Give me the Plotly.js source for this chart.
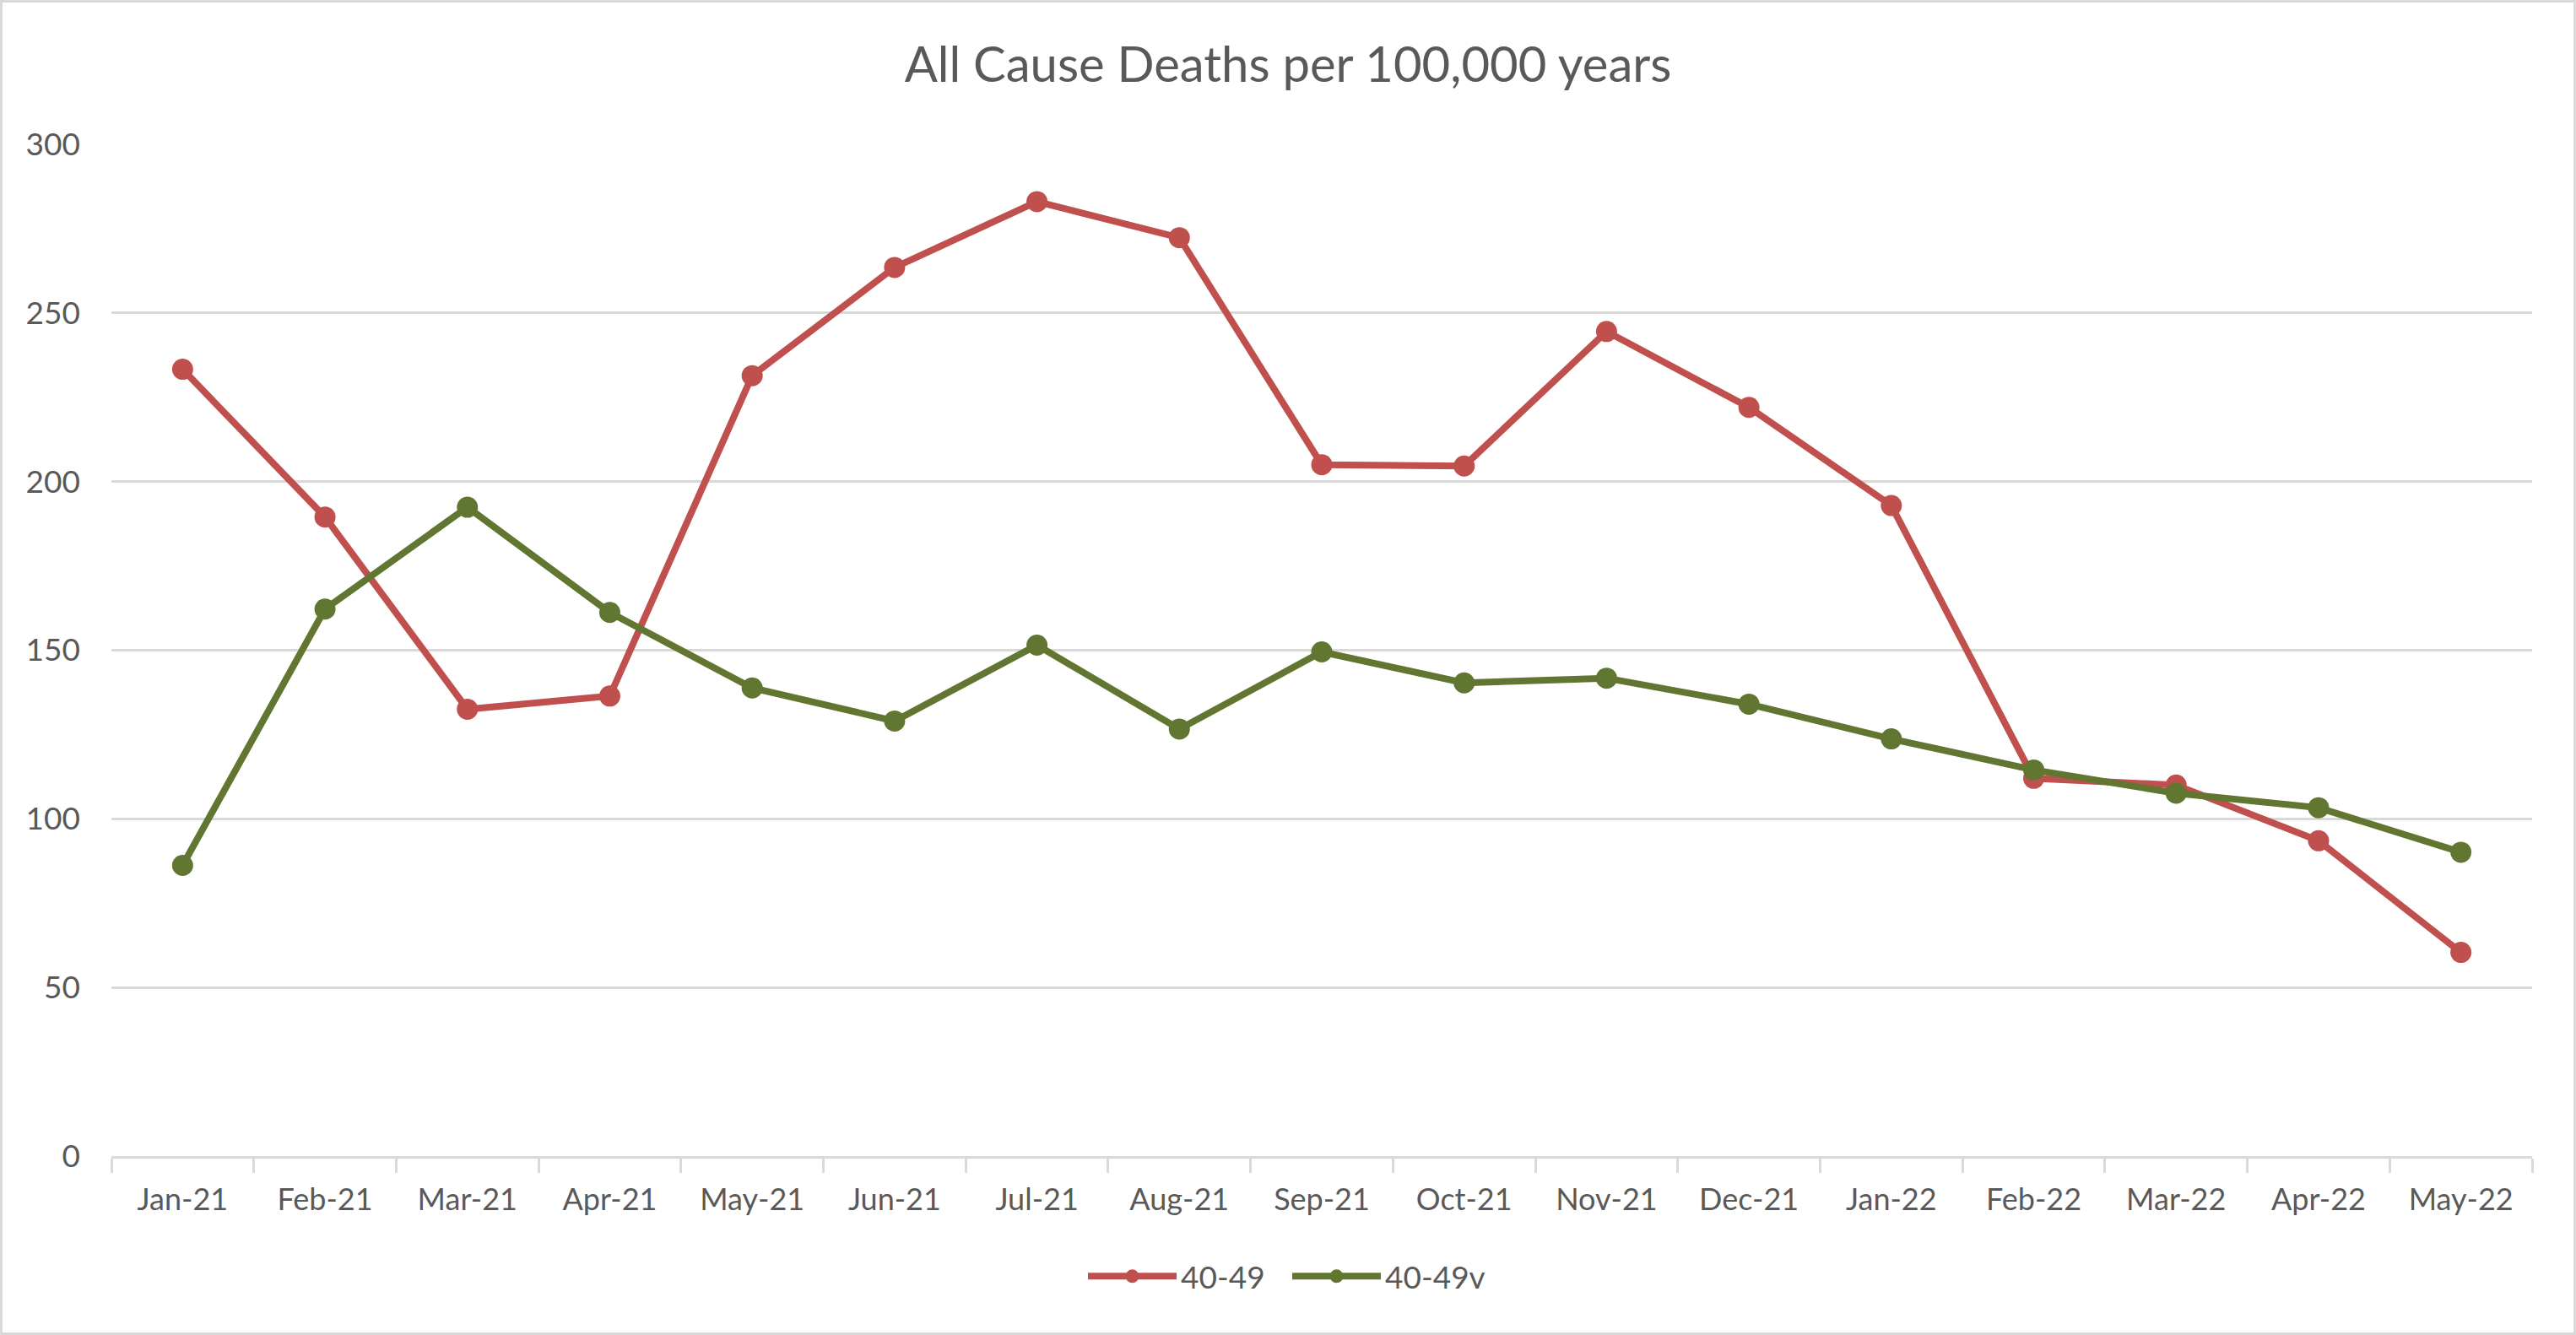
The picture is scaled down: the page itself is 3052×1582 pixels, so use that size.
<!DOCTYPE html>
<html>
<head>
<meta charset="utf-8">
<script src="https://cdn.plot.ly/plotly-3.0.1.min.js"></script>
<style>
  body { margin: 0; background: #fff; }
  #myDiv { width: 3046px; height: 1576px; border: 3px solid #d9d9d9; }
</style>
</head>
<body>
<div id="myDiv"></div>
<script>
// month labels on the category axis
var months = ['Jan-21', 'Feb-21', 'Mar-21', 'Apr-21', 'May-21', 'Jun-21', 'Jul-21', 'Aug-21',
  'Sep-21', 'Oct-21', 'Nov-21', 'Dec-21', 'Jan-22', 'Feb-22', 'Mar-22', 'Apr-22', 'May-22'];

// 40-49 (red)
var deaths4049 = [233.3, 189.5, 132.5, 136.4, 231.4, 263.5, 283, 272.3,
  205, 204.6, 244.5, 222, 192.9, 112, 110, 93.5, 60.4];

// 40-49v (green)
var deaths4049v = [86.2, 162.2, 192.4, 161.2, 138.8, 129, 151.5, 126.6,
  149.5, 140.3, 141.7, 134, 123.7, 114.5, 107.6, 103.3, 90.1];

var yTicks = [0, 50, 100, 150, 200, 250, 300];

function defTrace(name, values, color) {
  return {
    x: months,
    y: values,
    name: name,
    type: 'scatter',
    mode: 'lines+markers',
    line: {color: color, width: 8},
    marker: {color: color, size: 25},
    cliponaxis: false
  };
}

var trace1 = defTrace('40-49', deaths4049, '#c0504d');
var trace2 = defTrace('40-49v', deaths4049v, '#617731');

var data = [trace1, trace2];

var layout = {
  width: 3046,
  height: 1576,
  margin: {l: 129, r: 49, t: 168, b: 209},
  paper_bgcolor: '#fff',
  plot_bgcolor: '#fff',
  font: {family: 'Lato, "Open Sans", sans-serif', color: '#595959', size: 36},
  title: {
    text: 'All Cause Deaths per 100,000 years',
    font: {size: 58, color: '#595959'},
    x: 0.5, xref: 'container', xanchor: 'center',
    y: 0.953, yref: 'container', yanchor: 'middle'
  },
  xaxis: {
    type: 'category',
    range: [-0.5, months.length - 0.5],
    showgrid: false,
    showline: true,
    linecolor: '#d9d9d9',
    linewidth: 3,
    ticks: 'outside',
    tickson: 'boundaries',
    ticklen: 17,
    tickwidth: 3,
    tickcolor: '#d9d9d9',
    ticklabelstandoff: 18,
    tickfont: {size: 36, color: '#595959'},
    zeroline: false
  },
  yaxis: {
    range: [0, 300],
    tickvals: yTicks,
    showgrid: true,
    gridcolor: '#d9d9d9',
    gridwidth: 3,
    showline: false,
    zeroline: false,
    ticks: '',
    ticklabelstandoff: 36,
    tickfont: {size: 37, color: '#595959'}
  },
  showlegend: true,
  legend: {
    orientation: 'h',
    x: 0.5, xref: 'container', xanchor: 'center',
    y: 0.042, yref: 'container', yanchor: 'middle',
    font: {size: 37, color: '#595959'},
    itemwidth: 105,
    entrywidth: 122
  }
};

Plotly.newPlot('myDiv', data, layout, {displayModeBar: false});
</script>
</body>
</html>
